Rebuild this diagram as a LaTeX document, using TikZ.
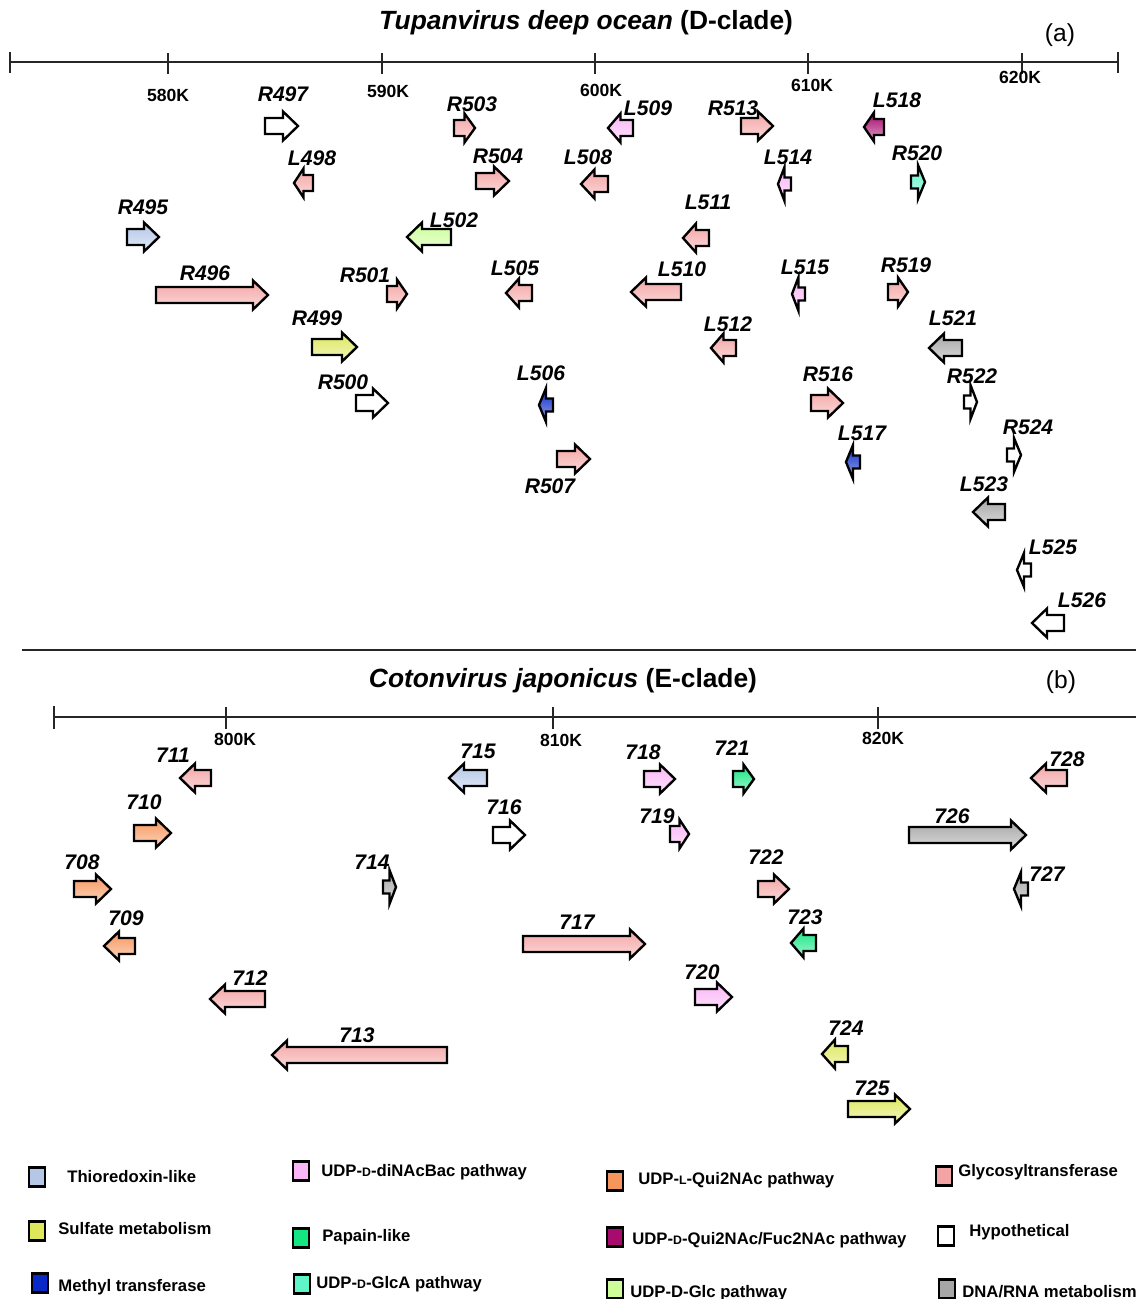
\documentclass[tikz,border=0pt]{standalone}
\usepackage{fontspec}
\setmainfont{Liberation Sans}
\usepackage{xcolor}
\definecolor{thioredoxin}{RGB}{180,199,231}
\definecolor{dinacbac}{RGB}{250,182,246}
\definecolor{quiL}{RGB}{247,150,92}
\definecolor{glycosyl}{RGB}{244,164,164}
\definecolor{sulfate}{RGB}{221,232,92}
\definecolor{papain}{RGB}{20,230,130}
\definecolor{fucnac}{RGB}{168,10,110}
\definecolor{hypothetical}{RGB}{255,255,255}
\definecolor{methyl}{RGB}{8,40,200}
\definecolor{glca}{RGB}{95,245,200}
\definecolor{glc}{RGB}{204,255,153}
\definecolor{dnarna}{RGB}{166,166,166}
\newcommand{\SmallCap}[1]{{\fontsize{7}{7}\selectfont #1}}
\newcommand{\GeneArrow}[4]{%
	\pgfmathsetmacro\GeneLen{abs(#2-#1)}%
	\pgfmathsetmacro\GeneNeck{#2-(#2-#1)/\GeneLen*min(15,0.5*\GeneLen)}%
	\pgfmathsetmacro\GeneBody{\GeneLen<16 ? 6.5 : 8}%
	\pgfmathsetmacro\GeneWing{\GeneLen<16 ? 17 : 14.5}%
	\draw[gene, top color=#4, bottom color=#4!40!white]
		(#1,#3-\GeneBody) -- (\GeneNeck,#3-\GeneBody) -- (\GeneNeck,#3-\GeneWing) -- (#2,#3)
		-- (\GeneNeck,#3+\GeneWing) -- (\GeneNeck,#3+\GeneBody) -- (#1,#3+\GeneBody) -- cycle;%
}

\begin{document}
\begin{tikzpicture}[
	x=0.02cm, y=-0.02cm,
	axis line/.style={line width=1.1pt, draw=black!85},
	gene/.style={draw=black, line width=1.35pt},
	gene label/.style={
		font=\fontsize{12}{12}\selectfont\bfseries\itshape,
		inner sep=0
	},
	tick label/.style={
		font=\fontsize{10}{10}\selectfont\bfseries,
		inner sep=0
	},
	panel title/.style={
		font=\fontsize{15}{15}\selectfont\bfseries,
		inner sep=0
	},
	panel tag/.style={
		font=\fontsize{14}{14}\selectfont,
		inner sep=0
	},
	key box/.style={
		draw=black,
		line width=1.4pt,
		minimum width=0.32cm,
		minimum height=0.38cm,
		inner sep=0
	},
	key label/.style={
		font=\fontsize{9.5}{9.5}\selectfont\bfseries,
		anchor=west,
		inner sep=0
	}
]
	\useasboundingbox (0,0) rectangle (1136,1299);

	% (a) Tupanvirus
	\node[panel title] (title a) at (586,23) {\textit{Tupanvirus deep ocean} (D-clade)};
	\node[panel tag] (tag a) at (1060,35) {(a)};
	\draw[axis line] (10,62) -- (1118,62);
	\draw[axis line] (10,52) -- (10,73) (1118,52) -- (1118,73);
	\foreach \tx/\tl/\lx/\ly in {168/580K/168/95, 382/590K/388/91, 595/600K/601/90, 808/610K/812/85, 1022/620K/1020/77} {
		\draw[axis line] (\tx,53) -- (\tx,74);
		\node[tick label] (tick \tl) at (\lx,\ly) {\tl};
	}
	\foreach \gname/\gtail/\gtip/\gy/\gcol/\lx/\ly in {
		R495/127/159/237/thioredoxin/143/207,
		R496/156/268/295/glycosyl/205/273,
		R497/265/298/126/hypothetical/283/94,
		L498/313/294/183/glycosyl/312/158,
		R499/312/357/347/sulfate/317/318,
		R500/356/388/403/hypothetical/343/382,
		R501/387/407/294/glycosyl/365/275,
		L502/451/407/237/glc/454/220,
		R503/454/475/128/glycosyl/472/104,
		R504/476/509/181/glycosyl/498/156,
		L505/532/506/293/glycosyl/515/268,
		L506/553/539/405/methyl/541/373,
		R507/557/590/459/glycosyl/550/486,
		L508/608/581/184/glycosyl/588/157,
		L509/633/608/128/dinacbac/648/108,
		L510/681/631/292/glycosyl/682/269,
		L511/709/683/238/glycosyl/708/202,
		L512/736/711/348/glycosyl/728/324,
		R513/741/773/126/glycosyl/733/108,
		L514/791/778/184/dinacbac/788/157,
		L515/805/792/294/dinacbac/805/267,
		R516/811/843/403/glycosyl/828/374,
		L517/860/846/462/methyl/862/433,
		L518/884/864/127/fucnac/897/100,
		R519/888/908/292/glycosyl/906/265,
		R520/911/925/182/glca/917/153,
		L521/962/929/348/dnarna/953/318,
		R522/964/977/402/hypothetical/972/376,
		L523/1005/973/512/dnarna/984/484,
		R524/1007/1021/455/hypothetical/1028/427,
		L525/1031/1017/570/hypothetical/1053/547,
		L526/1064/1032/623/hypothetical/1082/600} {
		\GeneArrow{\gtail}{\gtip}{\gy}{\gcol}
		\node[gene label] (gene \gname) at (\lx,\ly) {\gname};
	}

	\draw[line width=1.3pt, black!85] (22,650) -- (1136,650);

	% (b) Cotonvirus
	\node[panel title] (title b) at (563,681) {\textit{Cotonvirus japonicus} (E-clade)};
	\node[panel tag] (tag b) at (1061,682) {(b)};
	\draw[axis line] (54,717) -- (1136,717);
	\draw[axis line] (54,706) -- (54,729);
	\foreach \tx/\tl/\lx/\ly in {226/800K/235/739, 553/810K/561/740, 878/820K/883/738} {
		\draw[axis line] (\tx,707) -- (\tx,729);
		\node[tick label] (tick \tl) at (\lx,\ly) {\tl};
	}
	\foreach \gname/\gtail/\gtip/\gy/\gcol/\lx/\ly in {
		708/74/111/889/quiL/82/862,
		709/135/104/946/quiL/126/918,
		710/134/171/833/quiL/144/802,
		711/211/180/778/glycosyl/173/755,
		712/265/210/999/glycosyl/250/978,
		713/447/272/1055/glycosyl/357/1035,
		714/383/396/887/dnarna/372/862,
		715/487/449/778/thioredoxin/478/751,
		716/493/525/835/hypothetical/504/807,
		717/523/645/944/glycosyl/577/922,
		718/644/675/779/dinacbac/643/752,
		719/670/689/834/dinacbac/657/816,
		720/695/732/997/dinacbac/702/972,
		721/733/754/779/papain/732/748,
		722/758/789/889/glycosyl/766/857,
		723/816/791/943/papain/805/917,
		724/848/822/1054/sulfate/846/1028,
		725/848/910/1109/sulfate/872/1088,
		726/909/1026/835/dnarna/952/816,
		727/1028/1014/889/dnarna/1047/874,
		728/1067/1031/778/glycosyl/1067/759} {
		\GeneArrow{\gtail}{\gtip}{\gy}{\gcol}
		\node[gene label] (gene \gname) at (\lx,\ly) {\gname};
	}

	% legend
	\foreach \kname/\kcol/\bx/\by/\tx/\ty/\ktext in {
		thio/thioredoxin/37/1177/67/1177/{Thioredoxin-like},
		sulf/sulfate/37/1231/58/1229/{Sulfate metabolism},
		meth/methyl/40/1283/58/1287/{Methyl transferase},
		dinac/dinacbac/301/1171/321/1172/{UDP-\SmallCap{D}-diNAcBac pathway},
		papain/papain/301/1238/322/1237/{Papain-like},
		glca/glca/302/1284/316/1284/{UDP-\SmallCap{D}-GlcA pathway},
		quiL/quiL/615/1181/638/1180/{UDP-\SmallCap{L}-Qui2NAc pathway},
		fuc/fucnac/615/1237/632/1240/{UDP-\SmallCap{D}-Qui2NAc/Fuc2NAc pathway},
		glc/glc/615/1289/630/1293/{UDP-D-Glc pathway},
		gly/glycosyl/944/1176/958/1172/{Glycosyltransferase},
		hypo/hypothetical/946/1236/969/1232/{Hypothetical},
		dna/dnarna/947/1289/962/1292/{DNA/RNA metabolism}} {
		\node[key box, fill=\kcol] (key \kname) at (\bx,\by) {};
		\node[key label] (key \kname\space text) at (\tx,\ty) {\ktext};
	}
\end{tikzpicture}
\end{document}
